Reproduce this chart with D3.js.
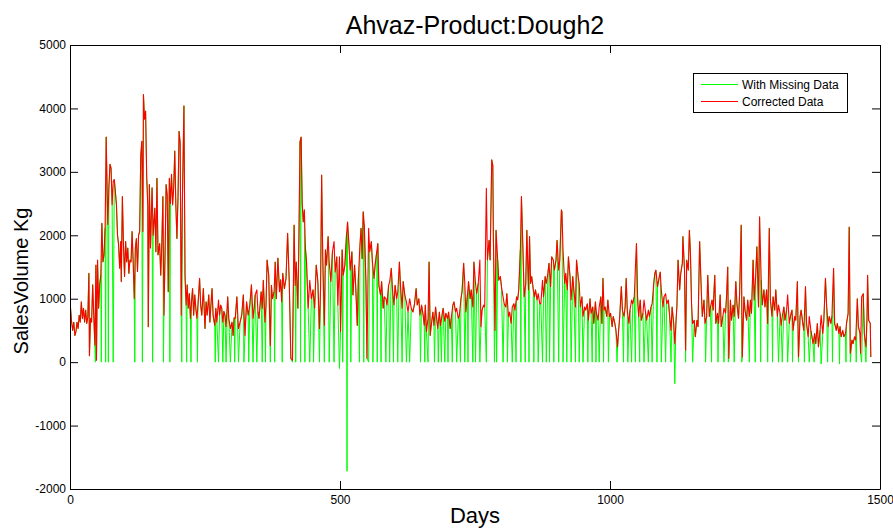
<!DOCTYPE html>
<html>
<head>
<meta charset="utf-8">
<script src="https://cdn.jsdelivr.net/npm/d3@7"></script>
<style>
  body { margin: 0; background: #fff; }
  svg { display: block; }
  text { font-family: "Liberation Sans", Arial, Helvetica, sans-serif; fill: #000; }
</style>
</head>
<body>
<svg id="chart" width="893" height="528"></svg>
<script>
// Daily dough sales, Ahvaz: corrected series (day, kg)
const correctedDays = [
  1,3,5,7,9,11,13,15,17,19,21,23,25,27,29,31,33,35,36,38,40,42,44,46,48,49,51,53,55,57,59,61,63,65,67,69,70,72,74,76,78,80,82,84,86,88,90,92,94,95,97,99,101,103,105,107,109,111,113,115,117,119,121,123,125,127,129,131,133,135,136,138,140,142,144,145,147,149,152,154,157,159,161,163,166,168,170,172,174,176,178,180,182,184,186,188,190,192,194,196,198,200,202,204,206,208,211,213,215,217,219,221,223,225,227,229,231,233,235,237,240,242,244,247,250,252,254,257,259,261,263,265,268,270,272,275,277,279,281,283,285,287,289,292,294,297,300,302,304,306,309,312,315,318,321,324,327,330,333,336,339,341,343,346,348,350,352,354,356,358,361,363,365,368,371,
  373,375,378,380,382,385,388,390,392,394,397,400,403,406,409,412,415,417,419,422,424,426,428,430,432,434,436,438,441,444,447,450,453,456,459,462,464,466,468,471,473,475,478,480,483,486,489,491,494,496,499,501,504,506,509,512,514,517,519,522,524,527,529,532,534,537,539,541,543,545,548,550,553,555,558,560,563,565,568,570,572,575,577,580,582,585,587,590,592,595,597,600,602,605,607,610,612,615,617,620,623,626,629,632,635,638,641,643,646,648,651,654,656,658,660,663,665,667,669,672,674,677,679,681,684,686,689,691,694,696,699,701,704,706,709,711,714,716,719,721,724,726,729,731,733,736,738,741,743,746,748,751,
  753,756,759,761,763,766,768,771,773,776,778,781,783,784,787,789,792,794,797,799,802,804,807,809,812,814,817,819,822,824,827,829,831,834,836,839,841,844,846,849,851,853,855,858,860,862,865,867,870,872,875,877,880,882,885,887,890,892,895,897,900,902,905,907,910,911,913,916,918,921,923,926,928,931,933,936,938,941,943,945,948,950,953,955,958,960,963,965,968,970,973,975,978,980,983,985,987,989,991,994,996,999,1001,1004,1006,1009,1011,1014,1016,1018,1021,1023,1026,1028,1030,1032,1035,1037,1040,1042,1045,1047,1049,1051,1053,1056,1058,1061,1063,1066,1068,1071,1073,1076,1078,1081,1083,1085,1088,1090,1093,1095,1098,1100,1103,1105,1108,1110,1113,1115,1118,
  1120,1122,1124,1126,1129,1131,1134,1135,1138,1140,1142,1145,1147,1149,1151,1153,1156,1158,1161,1163,1166,1169,1171,1174,1176,1179,1181,1184,1186,1189,1191,1194,1196,1199,1201,1204,1206,1209,1211,1214,1216,1218,1220,1223,1225,1228,1230,1233,1235,1238,1240,1243,1245,1248,1250,1253,1255,1258,1260,1262,1265,1267,1270,1272,1275,1277,1280,1282,1285,1287,1290,1292,1295,1297,1300,1302,1305,1307,1310,1312,1315,1317,1319,1322,1324,1327,1329,1332,1334,1337,1339,1342,1344,1347,1349,1352,1354,1357,1359,1362,1364,1367,1369,1372,1374,1376,1379,1381,1384,1386,1389,1391,1394,1396,1399,1401,1404,1406,1409,1411,1414,1416,1419,1421,1424,1426,1428,1431,1433,1436,1438,1441,1443,1445,1448,1450,1453,1455,1458,1460,1463,1464,1466,1469,1471,1474,1476,1477,1479,1482,1483
];
const correctedSales = [
  850,630,500,630,420,480,630,530,740,630,950,690,850,630,820,610,710,1400,100,690,630,1220,740,270,1530,30,1610,850,1220,1370,2190,1580,1690,2110,3550,2590,2170,2750,3120,3060,2480,2850,2880,2690,2480,2000,1850,1480,1900,1270,2610,1850,1350,1900,1580,1800,1400,1610,1580,2060,1580,1000,1800,1950,1430,2000,2060,3250,3480,2060,4220,3830,3960,2930,2480,560,2800,1800,2750,2000,2430,1740,2900,1690,1870,1370,1850,2610,740,1690,2800,2640,1110,2900,2500,2960,2480,2750,3330,2480,1950,2590,3640,3460,740,2480,4040,1370,900,1220,850,1080,690,950,1160,740,1060,850,690,900,1320,900,740,1160,530,950,740,1060,630,900,1160,740,580,850,630,980,740,900,850,630,800,740,560,1030,690,530,630,420,700,690,1030,530,630,740,1060,420,950,740,900,1220,690,850,1060,1140,800,690,900,1110,850,1290,630,900,1610,1370,260,
  1210,1000,1110,1580,1000,1640,1110,1300,950,1400,1160,1320,2030,1270,60,30,2160,1210,1580,850,2000,3480,3550,2500,2210,2400,1790,1580,850,1290,1000,1140,850,1530,1270,530,1160,2950,1690,580,1770,1530,1980,1580,1270,1740,1900,1420,1660,900,1660,480,1770,1370,1530,2000,2210,1790,1450,1740,1060,1530,1210,580,1320,1850,2110,1630,2370,2160,1270,60,2110,1740,1900,1580,1320,1530,1740,1870,1210,1060,1270,850,1030,1000,900,1210,1270,1480,1160,900,1210,1000,1110,1580,1210,850,1270,1060,950,790,1000,850,790,920,1160,900,1000,740,900,740,580,900,480,690,1580,420,580,790,580,870,690,530,790,580,740,850,640,770,690,790,530,690,900,950,790,850,690,740,1000,1110,1560,1270,790,1060,1270,1000,1140,870,1580,1240,
  1080,1240,1610,560,820,900,870,2740,1610,1920,1610,3190,3100,1980,500,2080,1610,1290,1350,1190,1030,920,870,1080,720,790,610,870,920,820,1030,980,1140,1770,2610,1710,1030,1240,2080,1140,1980,1240,1350,1140,1030,1140,980,1080,920,920,1290,1030,1350,1240,1400,1560,1190,1660,1610,1450,1610,1920,1450,1610,2400,2370,1770,1240,1400,1140,1660,1350,980,1350,1140,870,1610,1350,1240,870,1030,720,870,820,920,660,1000,770,870,610,950,770,660,870,1030,610,1320,820,870,720,980,720,770,560,720,610,500,240,500,720,1190,820,720,870,1320,820,610,820,980,920,1030,1480,1870,1030,720,980,660,770,980,770,660,820,720,870,920,1240,1400,1450,1190,1290,1420,1140,870,1030,1080,920,980,770,500,870,610,
  290,600,900,1610,1140,1400,1560,1980,1450,190,1610,1450,2080,1710,920,610,660,400,660,560,1900,1140,720,980,610,720,1370,720,870,980,820,1370,610,770,610,1060,560,720,850,770,1060,1500,60,980,660,900,720,1270,920,690,1080,2160,80,1030,820,660,980,720,980,770,1610,980,1400,1820,870,2290,1290,900,1140,870,1140,610,2110,980,720,1030,820,1140,720,900,770,580,720,870,660,820,1060,610,720,820,500,720,660,1270,80,720,820,610,500,1190,610,400,720,500,400,290,450,290,610,240,500,740,450,660,1320,920,560,720,610,720,1480,610,500,610,450,560,400,500,400,450,610,770,2130,140,350,290,400,350,1000,560,450,140,1030,1080,450,240,720,1370,660,610,80
];
// Days with no recorded sale in the raw series
const gapDays = [
  47,58,66,71,80,120,134,153,173,185,207,216,224,236,269,275,283,289,297,305,312,322,331,339,346,356,362,371,
  379,393,412,418,427,435,444,451,462,471,480,489,499,505,513,520,536,544,553,561,569,576,585,592,599,607,615,623,629,649,657,663,675,682,688,694,700,708,716,723,731,737,746,751,
  759,771,786,790,802,810,819,826,835,843,850,859,867,875,882,888,896,905,913,920,928,936,943,950,959,967,974,980,988,997,1013,1025,1033,1040,1047,1055,1063,1071,1078,1087,1095,1103,1113,
  1120,1140,1153,1177,1188,1200,1211,1219,1230,1244,1258,1269,1279,1292,1301,1312,1319,1329,1338,1349,1360,1369,1378,1391,1403,1412,1425,1437,1445,1456,1466,1474
];
// Erroneous raw entries on some of those days
const glitchDays = [499, 513, 1120, 1391, 1425];
const glitchSales = [-100, -1720, -340, -30, -30];

const dayTicks = [0, 500, 1000, 1500];
const salesTicks = [-2000, -1000, 0, 1000, 2000, 3000, 4000, 5000];
const seriesNames = ["With Missing Data", "Corrected Data"];
const seriesColors = ["#00ff00", "#ff0000"];

const svg = d3.select("#chart");
const box = { left: 70, right: 880, top: 45, bottom: 489 };

const x = d3.scaleLinear().domain([0, 1500]).range([box.left, box.right]);
const y = d3.scaleLinear().domain([-2000, 5000]).range([box.bottom, box.top]);

// Build series: raw = corrected with gaps zeroed and erroneous entries restored
const corrected = correctedDays.map((d, i) => ({ day: d, v: correctedSales[i] }));
const rawMap = new Map(corrected.map(p => [p.day, p.v]));
gapDays.forEach(d => rawMap.set(d, 0));
glitchDays.forEach((d, i) => rawMap.set(d, glitchSales[i]));
const raw = Array.from(rawMap, ([day, v]) => ({ day, v })).sort((a, b) => a.day - b.day);

const line = d3.line().x(p => x(p.day)).y(p => y(p.v));

const plot = svg.append("g");
plot.append("path").datum(raw)
  .attr("d", line).attr("fill", "none")
  .attr("stroke", seriesColors[0]).attr("stroke-width", 1)
  .attr("stroke-linejoin", "round");
plot.append("path").datum(corrected)
  .attr("d", line).attr("fill", "none")
  .attr("stroke", seriesColors[1]).attr("stroke-width", 1.1)
  .attr("stroke-linejoin", "round");

// Axes box with inward ticks
const fmt = d => String(d);
function styleAxis(g) {
  g.selectAll("path.domain").attr("stroke", "#000").attr("stroke-width", 1);
  g.selectAll(".tick line").attr("stroke", "#000");
  g.selectAll(".tick text").attr("font-size", 12).attr("font-family", "Liberation Sans, Arial, sans-serif").attr("fill", "#000");
}
svg.append("g").attr("transform", `translate(${box.left},0)`)
  .call(d3.axisLeft(y).tickValues(salesTicks).tickFormat(fmt).tickSizeInner(-8).tickSizeOuter(0).tickPadding(4))
  .call(styleAxis);
svg.append("g").attr("transform", `translate(${box.right},0)`)
  .call(d3.axisRight(y).tickValues(salesTicks).tickFormat("").tickSizeInner(-8).tickSizeOuter(0))
  .call(styleAxis);
svg.append("g").attr("transform", `translate(0,${box.bottom})`)
  .call(d3.axisBottom(x).tickValues(dayTicks).tickFormat(fmt).tickSizeInner(-8).tickSizeOuter(0).tickPadding(6))
  .call(styleAxis);
svg.append("g").attr("transform", `translate(0,${box.top})`)
  .call(d3.axisTop(x).tickValues(dayTicks).tickFormat("").tickSizeInner(-8).tickSizeOuter(0))
  .call(styleAxis);

// Titles
svg.append("text").attr("x", (box.left + box.right) / 2).attr("y", 34)
  .attr("text-anchor", "middle").attr("font-size", 25).text("Ahvaz-Product:Dough2");
svg.append("text").attr("x", (box.left + box.right) / 2).attr("y", 523)
  .attr("text-anchor", "middle").attr("font-size", 22).text("Days");
svg.append("text").attr("transform", `translate(28,${(box.top + box.bottom) / 2 + 14}) rotate(-90)`)
  .attr("text-anchor", "middle").attr("font-size", 20).text("SalesVolume Kg");

// Legend
const lg = svg.append("g").attr("transform", "translate(693,73)");
lg.append("rect").attr("x", 0.5).attr("y", 0.5).attr("width", 154).attr("height", 39)
  .attr("fill", "#fff").attr("stroke", "#000");
seriesNames.forEach((name, i) => {
  const yy = 11.5 + i * 17;
  lg.append("line").attr("x1", 8).attr("x2", 45).attr("y1", yy).attr("y2", yy)
    .attr("stroke", seriesColors[i]).attr("stroke-width", 1);
  lg.append("text").attr("x", 49).attr("y", yy + 4).attr("font-size", 12).text(name);
});
</script>
</body>
</html>
